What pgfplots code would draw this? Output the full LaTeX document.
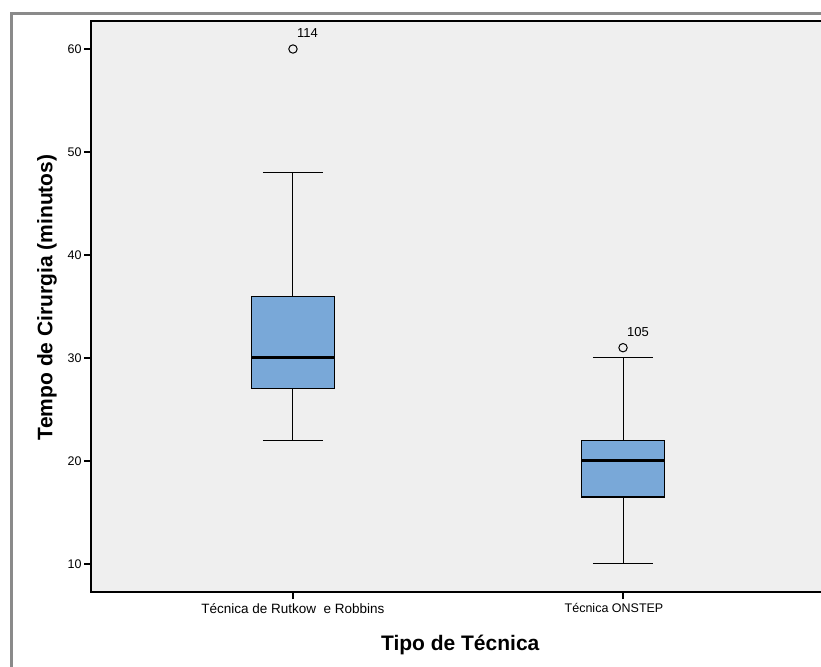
\documentclass[border=0pt]{standalone}
\usepackage{pgfplots}
\pgfplotsset{compat=1.18}
\usepackage{fontspec}
\setmainfont{Liberation Sans}
\definecolor{boxblue}{HTML}{79A8D8}
\definecolor{bggray}{HTML}{EFEFEF}
\definecolor{framegray}{HTML}{8A8A8A}
\begin{document}
\begin{tikzpicture}
\useasboundingbox (0pt,0pt) rectangle (821pt,666pt);
\draw[framegray, line width=3pt] (11.5pt,-5pt) -- (11.5pt,652.5pt) -- (830pt,652.5pt);
\begin{axis}[
  at={(91pt,74pt)}, anchor=south west,
  scale only axis, width=734pt, height=571pt,
  xmin=0.388, xmax=2.612, ymin=7.28, ymax=62.72,
  axis background/.style={fill=bggray},
  axis line style={black, line width=1.2pt},
  xtick={1,2},
  xticklabels={{\fontsize{13.5}{15}\selectfont T\'ecnica de Rutkow\ \ e Robbins}, {\hspace*{-18pt}T\'ecnica ONSTEP}},
  ytick={10,20,30,40,50,60},
  tick pos=left, tick align=outside,
  major tick length=7pt,
  tick style={black, line width=1.2pt},
  /pgf/number format/assume math mode=true,
  tick label style={font=\fontsize{12.5}{14}\selectfont},
  yticklabel style={xshift=1pt},
  xticklabel style={yshift=-1pt},
  xlabel={Tipo de T\'ecnica},
  ylabel={Tempo de Cirurgia (minutos)},
  label style={font=\fontsize{21}{24}\selectfont\bfseries},
  xlabel style={at={(axis description cs:0.503,-0.093)}, anchor=center},
  ylabel style={at={(axis description cs:-0.060,0.516)}, anchor=center},
  clip=false,
]
% --- Group 1: Rutkow e Robbins (whiskers 22/48, box 27-36, median 30, outlier 60)
\addplot[black, line width=1pt, mark=none] coordinates {(1,22) (1,27)};
\addplot[black, line width=1pt, mark=none] coordinates {(1,36) (1,48)};
\addplot[black, line width=1pt, mark=none] coordinates {(0.909,22) (1.091,22)};
\addplot[black, line width=1pt, mark=none] coordinates {(0.909,48) (1.091,48)};
\addplot[draw=black, fill=boxblue, line width=1.1pt, mark=none, line join=miter]
  coordinates {(0.874,27) (1.126,27) (1.126,36) (0.874,36) (0.874,27)} -- cycle;
\addplot[black, line width=3pt, mark=none] coordinates {(0.874,30) (1.126,30)};
\addplot[only marks, mark=o, mark size=4.2pt, mark options={draw=black, line width=1pt, fill=none}]
  coordinates {(1,60)};
% --- Group 2: ONSTEP (whiskers 10/30, box 16.5-22, median 20, outlier 31)
\addplot[black, line width=1pt, mark=none] coordinates {(2,10) (2,16.5)};
\addplot[black, line width=1pt, mark=none] coordinates {(2,22) (2,30)};
\addplot[black, line width=1pt, mark=none] coordinates {(1.909,10) (2.091,10)};
\addplot[black, line width=1pt, mark=none] coordinates {(1.909,30) (2.091,30)};
\addplot[draw=black, fill=boxblue, line width=1.1pt, mark=none, line join=miter]
  coordinates {(1.874,16.5) (2.126,16.5) (2.126,22) (1.874,22) (1.874,16.5)} -- cycle;
\addplot[black, line width=3pt, mark=none] coordinates {(1.874,20) (2.126,20)};
\addplot[only marks, mark=o, mark size=4.2pt, mark options={draw=black, line width=1pt, fill=none}]
  coordinates {(2,31)};
\node[anchor=south west, font=\fontsize{13}{15}\selectfont, inner sep=0pt] at (axis cs:1.012,61.1) {114};
\node[anchor=south west, font=\fontsize{13}{15}\selectfont, inner sep=0pt] at (axis cs:2.012,32.1) {105};
\end{axis}
\end{tikzpicture}
\end{document}
